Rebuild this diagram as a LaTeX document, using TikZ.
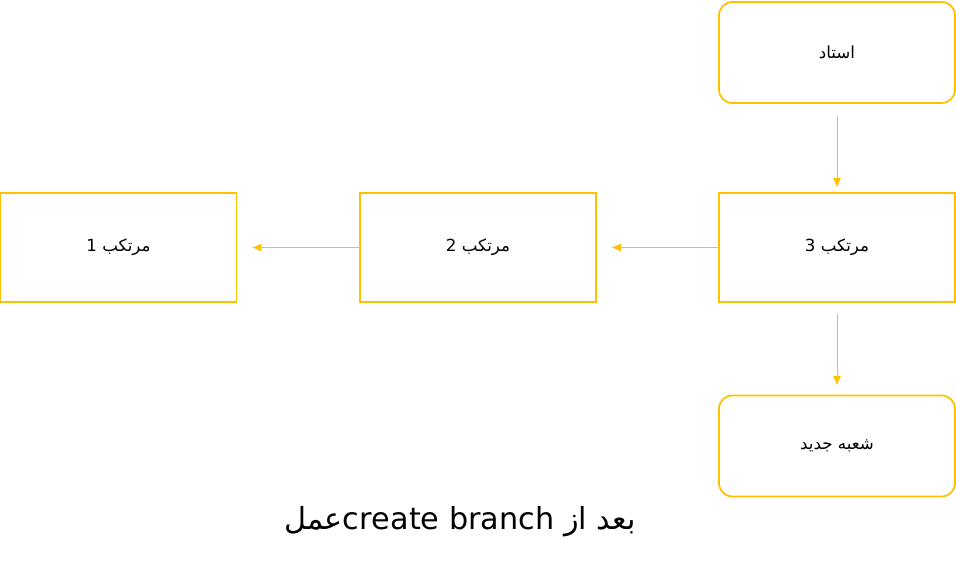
\documentclass[tikz,border=0pt]{standalone}
\usepackage{fontspec}
\newfontfamily\arabicfont[Script=Arabic]{DejaVu Sans}
\TeXXeTstate=1
\definecolor{gold}{HTML}{FFC000}
\tikzset{
 box/.style={draw=gold,line width=1.3pt,minimum width=236*0.75pt,minimum height=109*0.75pt,inner sep=0pt,font=\arabicfont\fontsize{12.5}{15}\selectfont},
 rbox/.style={box,rounded corners=10pt,minimum height=101*0.75pt},
 link/.style={draw=gold,line width=0.6pt,-{Latex[length=7pt,width=6pt]}}
}
\usetikzlibrary{arrows.meta}
\begin{document}
\begin{tikzpicture}[x=0.75pt,y=-0.75pt]
\useasboundingbox (0,0) rectangle (956,570);
\node[rbox] (ostad) at (837,52.5) {\beginR استاد\endR};
\node[box] (m3) at (837,247.5) {\beginR مرتکب 3\endR};
\node[box] (m2) at (478,247.5) {\beginR مرتکب 2\endR};
\node[box] (m1) at (118.5,247.5) {\beginR مرتکب 1\endR};
\node[rbox] (new) at (837,446) {\beginR شعبه جدید\endR};
\draw[link,shorten <=9pt,shorten >=3.5pt] (ostad.south) -- (m3.north);
\draw[link,shorten >=11pt] (m3.west) -- (m2.east);
\draw[link,shorten >=11pt] (m2.west) -- (m1.east);
\draw[link,shorten <=8pt,shorten >=7pt] (m3.south) -- (new.north);
\node[font=\arabicfont\fontsize{22.7}{27}\selectfont] (cap) at (460,522) {\beginR بعد از \beginL create branch\endL عمل\endR};
\end{tikzpicture}
\end{document}
